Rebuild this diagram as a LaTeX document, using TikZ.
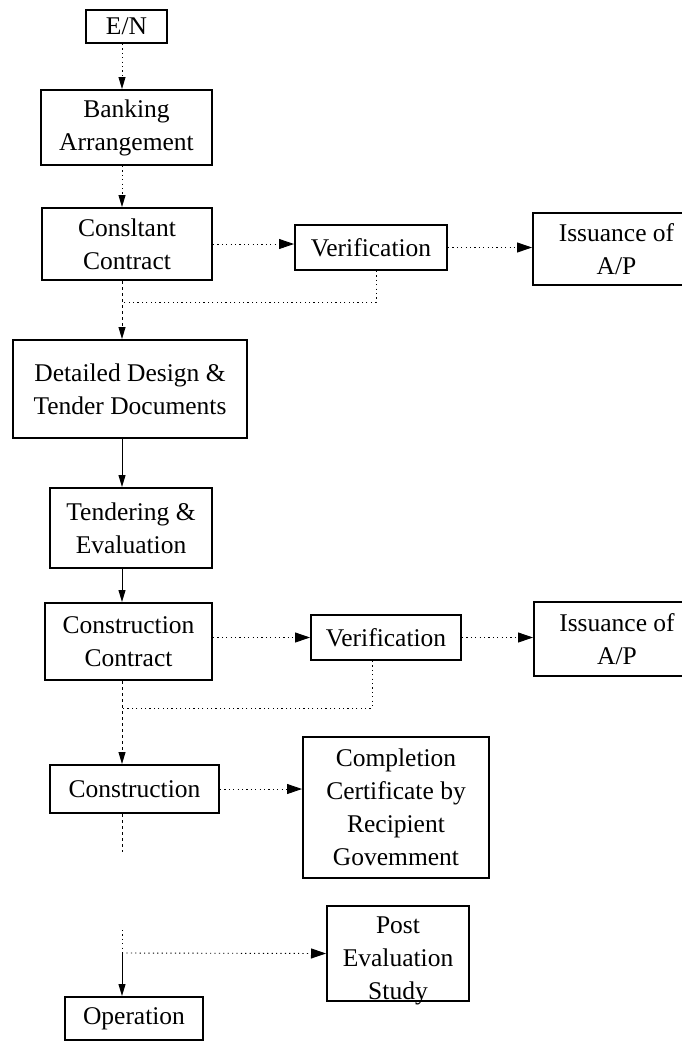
\documentclass[tikz,border=0pt]{standalone}
\usepackage{fontspec}
\setmainfont{Liberation Serif}
\usetikzlibrary{arrows.meta,calc}
\begin{document}
\begin{tikzpicture}[x=1pt,y=-1pt,
  box/.style={draw,line width=2pt,inner sep=0pt,align=center,
    font=\fontsize{25.5}{33}\selectfont},
  vtip/.style={-{Triangle[length=12pt,width=7pt]}},
  htip/.style={-{Triangle[length=15pt,width=10pt]}},
  solidline/.style={line width=1pt},
  dotline/.style={line width=0.9pt,dash pattern=on 1.2pt off 3.2pt},
  dashline/.style={line width=0.9pt,dash pattern=on 3pt off 3pt},
]
\useasboundingbox (0,0) rectangle (681,1042);
\fill[white] (0,0) rectangle (681,1042);

% main vertical axis of the flow
\coordinate (axis) at (122,0);

% boxes
\node[box,minimum width=81pt,minimum height=33pt]  (en)   at (126.5,26.5)  {E/N};
\node[box,minimum width=171pt,minimum height=75pt] (bank) at (126.5,127.5) {Banking\\Arrangement};
\node[box,minimum width=170pt,minimum height=72pt] (cons) at (127,244)     {Consltant\\Contract};
\node[box,minimum width=152pt,minimum height=45pt] (ver1) at (371,247.5)   {Verification};
\node[box,minimum width=167pt,minimum height=72pt] (iss1) at (616.5,249)   {Issuance of\\A/P};
\node[box,minimum width=234pt,minimum height=98pt] (det)  at (130,389)     {Detailed Design \&\\Tender Documents};
\node[box,minimum width=162pt,minimum height=80pt] (ten)  at (131,528)     {Tendering \&\\Evaluation};
\node[box,minimum width=167pt,minimum height=77pt] (cc)   at (128.5,641.5) {Construction\\Contract};
\node[box,minimum width=150pt,minimum height=45pt] (ver2) at (386,637.5)   {Verification};
\node[box,minimum width=166pt,minimum height=74pt] (iss2) at (617,639)     {Issuance of\\A/P};
\node[box,minimum width=169pt,minimum height=48pt] (cn)   at (134.5,789)   {Construction};
\node[box,minimum width=186pt,minimum height=141pt](comp) at (396,807.5)   {Completion\\Certificate by\\Recipient\\Govemment};
% the study box: its last line sits on the lower border
\node[box,minimum width=142pt,minimum height=95pt] (post) at (398,953.5)   {};
\node[box,draw=none] (posttext) at (398,961) {Post\\Evaluation\\Study};
\node[box,minimum width=138pt,minimum height=43pt] (op)   at (134,1018.5)  {Operation};

% junctions on the main axis
\coordinate (j1) at (122,302);
\coordinate (j2) at (122,708);
\coordinate (gapA) at (122,852);
\coordinate (gapB) at (122,930);
\coordinate (j3) at (122,953);

% main downward flow
\draw[dotline,vtip]   (axis |- en.south)   -- (axis |- bank.north);
\draw[dotline,vtip]   (axis |- bank.south) -- (axis |- cons.north);
\draw[dashline,vtip]  (axis |- cons.south) -- (axis |- det.north);
\draw[solidline,vtip] (axis |- det.south)  -- (axis |- ten.north);
\draw[solidline,vtip] (axis |- ten.south)  -- (axis |- cc.north);
\draw[dashline,vtip]  (axis |- cc.south)   -- (axis |- cn.north);
\draw[dashline]       (axis |- cn.south)   -- (gapA);
\draw[dotline]        (gapB) -- (j3);
\draw[solidline,vtip] (j3) -- (axis |- op.north);

% side branches
\draw[dotline,htip] (cons.east) -- (cons.east -| ver1.west);
\draw[dotline,htip] (ver1.east) -- (ver1.east -| iss1.west);
\draw[dotline] ($(ver1.south)+(5,0)$) |- (j1);
\draw[dotline,htip] (ver2.west -| cc.east) -- (ver2.west);
\draw[dotline,htip] (ver2.east) -- (ver2.east -| iss2.west);
\draw[dotline] ($(ver2.south)+(-14,0)$) |- (j2);
\draw[dotline,htip] (cn.east) -- (cn.east -| comp.west);
\draw[dotline,htip] (j3) -- (post.west);
\end{tikzpicture}
\end{document}
